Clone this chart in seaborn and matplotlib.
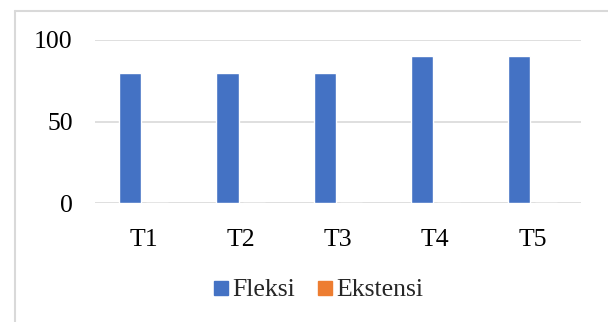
import matplotlib
matplotlib.use("Agg")
import matplotlib.pyplot as plt
from matplotlib.lines import Line2D
import seaborn as sns
import pandas as pd

categories = ["T1", "T2", "T3", "T4", "T5"]
fleksi = [80, 80, 80, 90, 90]
ekstensi = [0, 0, 0, 0, 0]
series_names = ["Fleksi", "Ekstensi"]
colors = ["#4472C4", "#ED7D31"]

df = pd.DataFrame({
    "kategori": categories * 2,
    "nilai": fleksi + ekstensi,
    "seri": [series_names[0]] * len(categories) + [series_names[1]] * len(categories),
})

sns.set_style("white")
plt.rcParams["font.family"] = ["Liberation Serif", "DejaVu Serif"]

fig = plt.figure(figsize=(6.08, 3.22), dpi=100)
ax = fig.add_axes([95 / 608, 1 - 203 / 322, (581 - 95) / 608, (203 - 40) / 322])

sns.barplot(data=df, x="kategori", y="nilai", hue="seri", palette=colors,
            width=0.55, gap=0.17, ax=ax, legend=False, saturation=1)

ax.set_ylim(0, 100)
ax.set_xlim(-0.5, len(categories) - 0.5)
ax.set_yticks([0, 50, 100])
ax.set_xlabel("")
ax.set_ylabel("")
for s in ax.spines.values():
    s.set_visible(False)
ax.yaxis.grid(True, color="#D9D9D9", linewidth=1.2)
ax.set_axisbelow(True)
ax.tick_params(axis="both", length=0, labelsize=18.5, labelcolor="black")
ax.tick_params(axis="y", pad=16)
ax.tick_params(axis="x", pad=19)
for lab in ax.get_yticklabels():
    lab.set_clip_on(False)

# chart frame
fig.add_artist(Line2D([15 / 608, 15 / 608], [0, 1 - 11 / 322], color="#D9D9D9", lw=1.5,
                      transform=fig.transFigure))
fig.add_artist(Line2D([15 / 608, 1], [1 - 11 / 322, 1 - 11 / 322], color="#D9D9D9", lw=1.5,
                      transform=fig.transFigure))

handles = [Line2D([], [], marker="s", linestyle="none", markersize=9.5,
                  markerfacecolor=c, markeredgecolor=c) for c in colors]
fig.legend(handles, series_names, loc="center", bbox_to_anchor=(317 / 608, 1 - 290 / 322),
           ncol=2, frameon=False, fontsize=18.5, handletextpad=0.05, columnspacing=0.75,
           handlelength=0.8)

fig.savefig("out.png", dpi=100)
